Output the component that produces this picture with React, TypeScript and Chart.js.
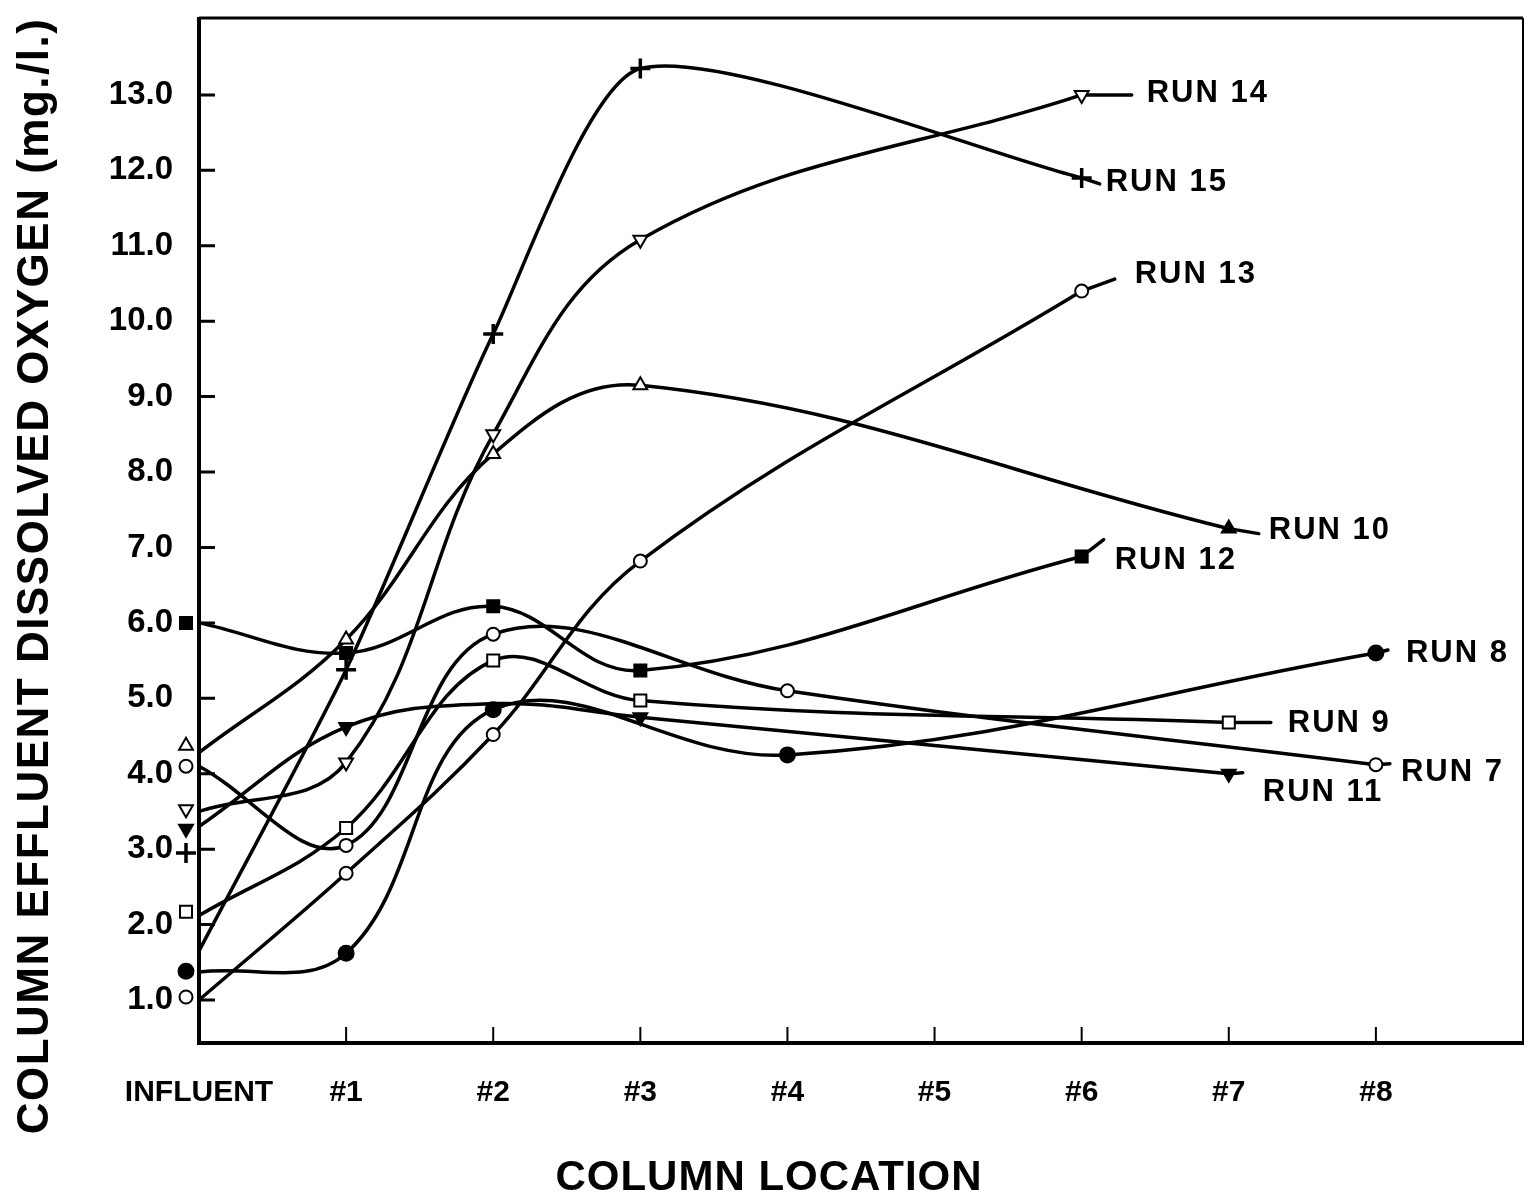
import React, { useEffect, useRef } from 'react';
import { Chart, registerables } from 'chart.js';

Chart.register(...registerables);

// ---------- data ----------
const xTickLabels = ['INFLUENT', '#1', '#2', '#3', '#4', '#5', '#6', '#7', '#8'];
const yTickValues = [1, 2, 3, 4, 5, 6, 7, 8, 9, 10, 11, 12, 13];

const run7Loc = [0, 1, 2, 4, 8];
const run7DO = [4.1, 3.05, 5.85, 5.1, 4.12];
const run7Influent = 4.1;

const run8Loc = [0, 1, 2, 4, 8];
const run8DO = [1.37, 1.62, 4.85, 4.25, 5.6];
const run8Influent = 1.38;

const run9Loc = [0, 1, 2, 3, 7];
const run9DO = [2.12, 3.28, 5.5, 4.97, 4.68];
const run9Influent = 2.17;

const run10Loc = [0, 1, 2, 3, 7];
const run10DO = [4.28, 5.78, 8.24, 9.15, 7.25];
const run10Influent = 4.37;

const run11Loc = [0, 1, 2, 3, 7];
const run11DO = [3.3, 4.62, 4.93, 4.75, 4.0];
const run11Influent = 3.27;

const run12Loc = [0, 1, 2, 3, 6];
const run12DO = [6.0, 5.6, 6.22, 5.37, 6.88];
const run12Influent = 6.0;

const run13Loc = [0, 1, 2, 3, 6];
const run13DO = [1.0, 2.68, 4.52, 6.82, 10.4];
const run13Influent = 1.04;

const run14Loc = [0, 1, 2, 3, 6];
const run14DO = [3.5, 4.15, 8.5, 11.08, 13.0];
const run14Influent = 3.53;

const run15Loc = [0, 1, 2, 3, 6];
const run15DO = [1.65, 5.38, 9.83, 13.35, 11.9];
const run15Influent = 2.95;

// ---------- styles ----------
const FONT = "'Liberation Sans', Arial, sans-serif";

type MarkerStyle = 'circle' | 'rect' | 'triangle' | 'cross';

interface SeriesDef {
  label: string;
  loc: number[];
  val: number[];
  influent: number;
  marker: MarkerStyle;
  rotation: number;
  radius: number;
  tension: number;
  filled: boolean[]; // per point (index 0 = influent marker)
  hidden?: number[]; // point indices without marker
  tail: [number, number];
  text: [number, number];
}

const series: SeriesDef[] = [
  { label: 'RUN 7', loc: run7Loc, val: run7DO, influent: run7Influent, marker: 'circle', rotation: 0, radius: 6.5, tension: 0.38,
    filled: [false, false, false, false, false], tail: [14, -1], text: [25, 8] },
  { label: 'RUN 8', loc: run8Loc, val: run8DO, influent: run8Influent, marker: 'circle', rotation: 0, radius: 7.5, tension: 0.38,
    filled: [true, true, true, true, true], tail: [12, -3], text: [30, 0] },
  { label: 'RUN 9', loc: run9Loc, val: run9DO, influent: run9Influent, marker: 'rect', rotation: 0, radius: 8.5, tension: 0.38,
    filled: [false, false, false, false, false], tail: [42, 0], text: [59, 1] },
  { label: 'RUN 10', loc: run10Loc, val: run10DO, influent: run10Influent, marker: 'triangle', rotation: 0, radius: 8, tension: 0.38,
    filled: [false, false, false, false, true], tail: [30, 5], text: [40, 2] },
  { label: 'RUN 11', loc: run11Loc, val: run11DO, influent: run11Influent, marker: 'triangle', rotation: 180, radius: 8, tension: 0.38,
    filled: [true, true, true, true, true], hidden: [2], tail: [14, -1], text: [34, 19] },
  { label: 'RUN 12', loc: run12Loc, val: run12DO, influent: run12Influent, marker: 'rect', rotation: 0, radius: 8.5, tension: 0.38,
    filled: [true, true, true, true, true], tail: [22, -17], text: [33, 4] },
  { label: 'RUN 13', loc: run13Loc, val: run13DO, influent: run13Influent, marker: 'circle', rotation: 0, radius: 6.5, tension: 0.38,
    filled: [false, false, false, false, false], tail: [33, -12], text: [53, -17] },
  { label: 'RUN 14', loc: run14Loc, val: run14DO, influent: run14Influent, marker: 'triangle', rotation: 180, radius: 8, tension: 0.38,
    filled: [false, false, false, false, false], tail: [50, 0], text: [65, -1] },
  { label: 'RUN 15', loc: run15Loc, val: run15DO, influent: run15Influent, marker: 'cross', rotation: 0, radius: 10, tension: 0.22,
    filled: [false, false, false, false, false], tail: [18, 6], text: [24, 5] },
];

function drawMarker(ctx: CanvasRenderingContext2D, style: MarkerStyle, x: number, y: number, r: number, filled: boolean, rot: number) {
  ctx.save();
  ctx.translate(x, y);
  ctx.rotate((rot * Math.PI) / 180);
  ctx.beginPath();
  if (style === 'circle') {
    ctx.arc(0, 0, r, 0, Math.PI * 2);
  } else if (style === 'rect') {
    const s = Math.SQRT1_2 * r;
    ctx.rect(-s, -s, 2 * s, 2 * s);
  } else if (style === 'triangle') {
    ctx.moveTo(0, -r);
    ctx.lineTo(r * 0.866, r * 0.5);
    ctx.lineTo(-r * 0.866, r * 0.5);
    ctx.closePath();
  } else {
    ctx.moveTo(0, -r);
    ctx.lineTo(0, r);
    ctx.moveTo(-r, 0);
    ctx.lineTo(r, 0);
  }
  ctx.lineWidth = style === 'cross' ? 3.5 : 2;
  ctx.strokeStyle = '#000';
  if (style !== 'cross') {
    ctx.fillStyle = filled ? '#000' : '#fff';
    ctx.fill();
  }
  ctx.stroke();
  ctx.restore();
}

const decorPlugin = {
  id: 'decor',
  beforeDatasetsDraw(chart: any) {
    const ctx: CanvasRenderingContext2D = chart.ctx;
    const { left, right, top, bottom } = chart.chartArea;
    const xs = chart.scales.x;
    const ys = chart.scales.y;
    ctx.save();
    ctx.strokeStyle = '#000';
    ctx.lineCap = 'butt';
    // frame
    ctx.lineWidth = 3;
    ctx.beginPath();
    ctx.moveTo(left, top);
    ctx.lineTo(right, top);
    ctx.stroke();
    ctx.lineWidth = 2;
    ctx.beginPath();
    ctx.moveTo(right, top);
    ctx.lineTo(right, bottom);
    ctx.stroke();
    ctx.lineWidth = 4;
    ctx.beginPath();
    ctx.moveTo(left, top - 1);
    ctx.lineTo(left, bottom + 2);
    ctx.moveTo(left - 2, bottom);
    ctx.lineTo(right + 1, bottom);
    ctx.stroke();
    // inward ticks
    ctx.lineWidth = 3;
    ctx.beginPath();
    yTickValues.forEach((v) => {
      const y = ys.getPixelForValue(v);
      ctx.moveTo(left, y);
      ctx.lineTo(left + 16, y);
    });
    ctx.stroke();
    ctx.lineWidth = 2;
    ctx.beginPath();
    for (let i = 1; i < xTickLabels.length; i++) {
      const x = xs.getPixelForValue(i);
      ctx.moveTo(x, bottom);
      ctx.lineTo(x, bottom - 16);
    }
    ctx.stroke();
    // tails
    ctx.lineWidth = 3.5;
    ctx.lineCap = 'round';
    series.forEach((s, i) => {
      const meta = chart.getDatasetMeta(i);
      const p = meta.data[meta.data.length - 1];
      ctx.beginPath();
      ctx.moveTo(p.x, p.y);
      ctx.lineTo(p.x + s.tail[0], p.y + s.tail[1]);
      ctx.stroke();
    });
    ctx.restore();
  },
  afterDatasetsDraw(chart: any) {
    const ctx: CanvasRenderingContext2D = chart.ctx;
    const { left } = chart.chartArea;
    const ys = chart.scales.y;
    ctx.save();
    // influent markers, drawn just left of the axis
    series.forEach((s) => {
      drawMarker(ctx, s.marker, left - 13, ys.getPixelForValue(s.influent), s.radius, s.filled[0], s.rotation);
    });
    // run labels
    ctx.fillStyle = '#000';
    ctx.font = `bold 31px ${FONT}`;
    (ctx as any).letterSpacing = '2px';
    ctx.textAlign = 'left';
    ctx.textBaseline = 'middle';
    series.forEach((s, i) => {
      const meta = chart.getDatasetMeta(i);
      const p = meta.data[meta.data.length - 1];
      ctx.fillText(s.label, p.x + s.text[0], p.y + s.text[1]);
    });
    // axis titles
    ctx.font = `bold 44px ${FONT}`;
    (ctx as any).letterSpacing = '1.5px';
    ctx.textAlign = 'center';
    ctx.save();
    ctx.translate(36, 576);
    ctx.rotate(-Math.PI / 2);
    ctx.fillText('COLUMN EFFLUENT DISSOLVED OXYGEN (mg./l.)', 0, 0);
    ctx.restore();
    ctx.font = `bold 42px ${FONT}`;
    (ctx as any).letterSpacing = '1px';
    ctx.fillText('COLUMN LOCATION', 769, 1178);
    ctx.restore();
  },
};

export default function App() {
  const ref = useRef<HTMLCanvasElement | null>(null);
  useEffect(() => {
    if (!ref.current) return;
    Chart.defaults.color = '#000';
    const datasets = series.map((s) => ({
      label: s.label,
      data: s.loc.map((x, i) => ({ x, y: s.val[i] })),
      borderColor: '#000',
      borderWidth: 3.5,
      tension: s.tension,
      fill: false,
      pointStyle: s.marker,
      pointRotation: s.rotation,
      pointRadius: s.loc.map((_, i) => (i === 0 || (s.hidden && s.hidden.includes(i)) ? 0 : s.radius)),
      pointBorderWidth: s.marker === 'cross' ? 3.5 : 2,
      pointBorderColor: '#000',
      pointBackgroundColor: s.filled.map((f) => (f ? '#000' : '#fff')),
      clip: false as any,
    }));
    const chart = new Chart(ref.current, {
      type: 'line',
      data: { datasets },
      options: {
        responsive: false,
        devicePixelRatio: 1,
        animation: false,
        layout: { autoPadding: false, padding: { top: 18, right: 9, left: 0, bottom: 0 } },
        plugins: { legend: { display: false }, tooltip: { enabled: false } },
        scales: {
          x: {
            type: 'linear',
            min: 0,
            max: 9,
            afterBuildTicks: (s: any) => {
              s.ticks = xTickLabels.map((_, i) => ({ value: i }));
            },
            afterFit: (s: any) => {
              s.height = 160;
              s.paddingLeft = 0;
              s.paddingRight = 0;
            },
            ticks: {
              callback: (v: any) => xTickLabels[v] ?? '',
              font: { family: FONT, size: 30, weight: 'bold' },
              color: '#000',
              padding: 32,
              maxRotation: 0,
              autoSkip: false,
            },
            grid: { display: false, drawTicks: false },
            border: { display: false },
          },
          y: {
            type: 'linear',
            min: 0.43,
            max: 14.02,
            afterBuildTicks: (s: any) => {
              s.ticks = yTickValues.map((v) => ({ value: v }));
            },
            afterFit: (s: any) => {
              s.width = 199;
              s.paddingTop = 0;
              s.paddingBottom = 0;
            },
            ticks: {
              callback: (v: any) => Number(v).toFixed(1),
              font: { family: FONT, size: 33, weight: 'bold' },
              color: '#000',
              padding: 26,
              autoSkip: false,
            },
            grid: { display: false, drawTicks: false },
            border: { display: false },
          },
        },
      },
      plugins: [decorPlugin],
    });
    return () => chart.destroy();
  }, []);
  return (
    <div style={{ position: 'absolute', left: 0, top: 0, width: 1532, height: 1203, background: '#fff' }}>
      <canvas ref={ref} width={1532} height={1203} style={{ display: 'block' }} />
    </div>
  );
}
